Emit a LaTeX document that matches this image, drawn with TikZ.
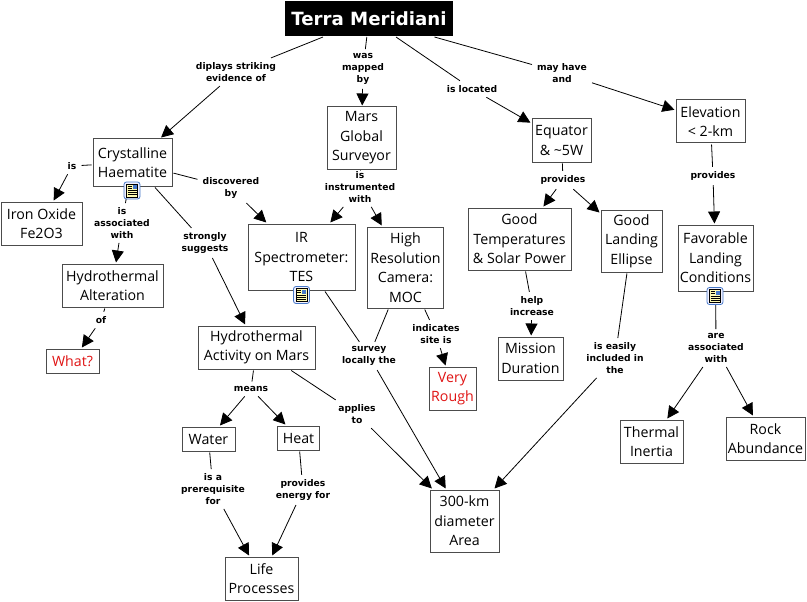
\documentclass[tikz,border=0pt]{standalone}
\usepackage{fontspec}
\setmainfont{Open Sans}
\newfontfamily\labelfont{DejaVu Sans}
\usetikzlibrary{positioning,%
  arrows.meta,%
  backgrounds%
}
\definecolor{boxgray}{gray}{0.3}
\definecolor{alertred}{RGB}{224,20,20}
\definecolor{iconblue}{RGB}{70,120,200}
\tikzset{
  concept/.style={draw=boxgray,line width=1pt,fill=white,inner sep=0pt,outer sep=1.5pt,align=center,
    font=\fontsize{14.2}{19.6}\selectfont},
  linklabel/.style={inner xsep=5pt,inner ysep=4.5pt,align=center,
    font=\labelfont\bfseries\fontsize{9.2}{11.7}\selectfont},
  linkline/.style={line width=0.8pt,black},
  linkarrow/.style={line width=0.8pt,black,-{Triangle[length=12pt,width=12pt]}},
  docicon/.pic={
    \draw[rounded corners=2.5pt,draw=iconblue,fill=blue!6,line width=0.8pt] (-8,-8.5) rectangle (8,8.5);
    \draw[fill=yellow!30,line width=0.6pt] (-5.5,-6.5) rectangle (5.5,6.5);
    \fill[iconblue] (0.5,-5.5) rectangle (4.5,-1.5);
    \foreach \y in {-4.5,-2.5} \draw[line width=0.4pt] (-4.5,\y) -- (-0.5,\y);
    \foreach \y in {0,2,4} \draw[line width=0.4pt] (-4.5,\y) -- (4.5,\y);
  }
}
\begin{document}
\begin{tikzpicture}[x=1pt,y=-1pt]
  \useasboundingbox (0,0) rectangle (807,602);

  % concepts
  \node[fill=black,text=white,minimum width=168pt,minimum height=35pt,inner sep=0pt,outer sep=1pt,
    font=\labelfont\bfseries\fontsize{18.2}{22}\selectfont] (terra) at (369,18.5) {Terra Meridiani};
  \node[concept,minimum width=79pt,minimum height=47pt] (crystal) at (132.5,162.5) {Crystalline\\Haematite};
  \node[concept,minimum width=81pt,minimum height=43pt] (iron) at (41.5,223.5) {Iron Oxide\\Fe2O3};
  \node[concept,minimum width=101pt,minimum height=43pt] (alteration) at (112.5,285.5) {Hydrothermal\\Alteration};
  \node[concept,minimum width=53pt,minimum height=24pt,text=alertred] (what) at (72.5,361) {What?};
  \node[concept,minimum width=69pt,minimum height=62pt] (mgs) at (361.5,138) {Mars\\Global\\Surveyor};
  \node[concept,minimum width=107pt,minimum height=66pt] (tes) at (301.5,257) {IR\\Spectrometer:\\TES};
  \node[concept,minimum width=76pt,minimum height=81pt] (moc) at (405.5,267.5) {High\\Resolution\\Camera:\\MOC};
  \node[concept,minimum width=117pt,minimum height=43pt] (activity) at (256.5,347.5) {Hydrothermal\\Activity on Mars};
  \node[concept,minimum width=53pt,minimum height=24pt] (water) at (208.5,439) {Water};
  \node[concept,minimum width=42pt,minimum height=24pt] (heat) at (298.5,438) {Heat};
  \node[concept,minimum width=73pt,minimum height=43pt] (life) at (261.5,578.5) {Life\\Processes};
  \node[concept,minimum width=69pt,minimum height=62pt] (area) at (464.5,521) {300-km\\diameter\\Area};
  \node[concept,minimum width=47pt,minimum height=43pt,text=alertred] (rough) at (452.5,388.5) {Very\\Rough};
  \node[concept,minimum width=65pt,minimum height=43pt] (duration) at (530.5,358.5) {Mission\\Duration};
  \node[concept,minimum width=103pt,minimum height=62pt] (temps) at (519.5,239) {Good\\Temperatures\\\& Solar Power};
  \node[concept,minimum width=61pt,minimum height=62pt] (ellipse) at (631.5,241) {Good\\Landing\\Ellipse};
  \node[concept,minimum width=59pt,minimum height=43pt] (equator) at (561.5,140.5) {Equator\\\& \char`~5W};
  \node[concept,minimum width=69pt,minimum height=43pt] (elevation) at (710.5,121.5) {Elevation\\< 2-km};
  \node[concept,minimum width=75pt,minimum height=66pt] (favorable) at (715.5,258) {Favorable\\Landing\\Conditions};
  \node[concept,minimum width=63pt,minimum height=43pt] (thermal) at (651.5,441.5) {Thermal\\Inertia};
  \node[concept,minimum width=79pt,minimum height=43pt] (rock) at (765.5,438.5) {Rock\\Abundance};

  % link labels
  \node[linklabel] (diplays) at (236,72) {diplays striking\\evidence of};
  \node[linklabel] (mapped) at (363,69) {was\\mapped\\by};
  \node[linklabel] (located) at (472,89) {is located};
  \node[linklabel] (mayhave) at (562,73) {may have\\and};
  \node[linklabel] (is) at (72,166) {is};
  \node[linklabel] (discovered) at (231,188) {discovered\\by};
  \node[linklabel] (instrumented) at (360,187) {is\\instrumented\\with};
  \node[linklabel] (suggests) at (205,243) {strongly\\suggests};
  \node[linklabel] (associated) at (122,223) {is\\associated\\with};
  \node[linklabel] (of) at (101,320) {of};
  \node[linklabel] (eqprovides) at (563,180) {provides};
  \node[linklabel] (elprovides) at (713,176) {provides};
  \node[linklabel] (increase) at (532,306) {help\\increase};
  \node[linklabel] (indicates) at (436,334) {indicates\\site is};
  \node[linklabel] (survey) at (369,356) {survey\\locally the};
  \node[linklabel] (applies) at (357,414) {applies\\to};
  \node[linklabel] (means) at (251,389) {means};
  \node[linklabel] (prereq) at (213,489) {is a\\prerequisite\\for};
  \node[linklabel] (energy) at (303,490) {provides\\energy for};
  \node[linklabel] (included) at (615,358) {is easily\\included in\\the};
  \node[linklabel] (favassoc) at (716,348) {are\\associated\\with};

  % connectors
  \begin{scope}[on background layer]
    \draw[linkline] (terra) -- (diplays);
    \draw[linkarrow] (diplays) -- (crystal);
    \draw[linkline] (terra) -- (mapped);
    \draw[linkarrow] (mapped) -- (mgs);
    \draw[linkline] (terra) -- (located);
    \draw[linkarrow] (located) -- (equator);
    \draw[linkline] (terra) -- (mayhave);
    \draw[linkarrow] (mayhave) -- (elevation);
    \draw[linkline] (crystal) -- (is);
    \draw[linkarrow] (is) -- (iron);
    \draw[linkline] (crystal) -- (associated);
    \draw[linkarrow] (associated) -- (alteration);
    \draw[linkline] (alteration) -- (of);
    \draw[linkarrow] (of) -- (what);
    \draw[linkline] (crystal) -- (discovered);
    \draw[linkarrow] (discovered) -- (tes);
    \draw[linkline] (crystal) -- (suggests);
    \draw[linkarrow] (suggests) -- (activity);
    \draw[linkline] (mgs) -- (instrumented);
    \draw[linkarrow] (instrumented) -- (tes);
    \draw[linkarrow] (instrumented) -- (moc);
    \draw[linkline] (tes) -- (survey);
    \draw[linkline] (moc) -- (survey);
    \draw[linkarrow] (survey) -- (area);
    \draw[linkline] (moc) -- (indicates);
    \draw[linkarrow] (indicates) -- (rough);
    \draw[linkline] (activity) -- (means);
    \draw[linkarrow] (means) -- (water);
    \draw[linkarrow] (means) -- (heat);
    \draw[linkline] (activity) -- (applies);
    \draw[linkarrow] (applies) -- (area);
    \draw[linkline] (water) -- (prereq);
    \draw[linkarrow] (prereq) -- (life);
    \draw[linkline] (heat) -- (energy);
    \draw[linkarrow] (energy) -- (life);
    \draw[linkline] (equator) -- (eqprovides);
    \draw[linkarrow] (eqprovides) -- (temps);
    \draw[linkarrow] (eqprovides) -- (ellipse);
    \draw[linkline] (temps) -- (increase);
    \draw[linkarrow] (increase) -- (duration);
    \draw[linkline] (ellipse) -- (included);
    \draw[linkarrow] (included) -- (area);
    \draw[linkline] (elevation) -- (elprovides);
    \draw[linkarrow] (elprovides) -- (favorable);
    \draw[linkline] (favorable) -- (favassoc);
    \draw[linkarrow] (favassoc) -- (thermal);
    \draw[linkarrow] (favassoc) -- (rock);
  \end{scope}

  % note icons
  \pic at (132,190.5) {docicon};
  \pic at (301.5,295) {docicon};
  \pic at (715,296) {docicon};
\end{tikzpicture}
\end{document}
